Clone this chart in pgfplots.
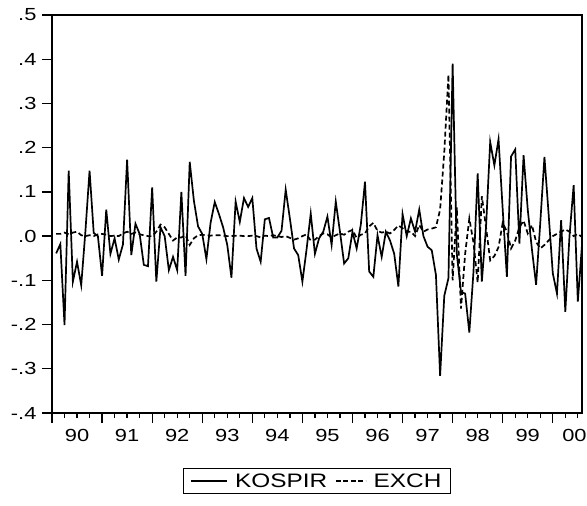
\documentclass[border=0pt]{standalone}
\usepackage{pgfplots}
\pgfplotsset{compat=1.18}
\usepackage{pgfplotstable}
\usepackage{fontspec}
\setmainfont{Liberation Sans}[FakeStretch=1.25]

\pgfplotstableread{
m kospir exch
1 -0.039 0.005
2 -0.018 0.005
3 -0.201 0.008
4 0.148 0.004
5 -0.103 0.008
6 -0.058 0.010
7 -0.111 0.002
8 0.010 0.000
9 0.148 0.002
10 0.007 0.000
11 0.000 0.004
12 -0.090 0.005
13 0.060 0.003
14 -0.040 0.000
15 -0.005 0.001
16 -0.053 0.000
17 -0.019 0.006
18 0.173 0.010
19 -0.043 0.005
20 0.028 0.008
21 0.005 0.004
22 -0.065 0.002
23 -0.068 0.000
24 0.110 0.000
25 -0.103 0.010
26 0.020 0.026
27 0.000 0.020
28 -0.077 0.005
29 -0.047 -0.010
30 -0.077 -0.003
31 0.100 -0.003
32 -0.090 0.002
33 0.168 -0.020
34 0.080 -0.005
35 0.022 0.002
36 0.005 0.003
37 -0.052 0.002
38 0.030 0.001
39 0.077 0.002
40 0.050 0.002
41 0.020 0.001
42 -0.020 0.000
43 -0.094 0.000
44 0.078 0.001
45 0.032 0.001
46 0.086 0.000
47 0.066 0.000
48 0.086 0.001
49 -0.028 0.000
50 -0.058 -0.003
51 0.038 0.001
52 0.041 0.000
53 -0.003 0.002
54 -0.003 0.000
55 0.012 -0.002
56 0.105 0.000
57 0.040 -0.004
58 -0.028 -0.008
59 -0.043 -0.005
60 -0.103 0.000
61 -0.030 0.004
62 0.051 -0.010
63 -0.040 -0.008
64 -0.005 0.000
65 0.010 0.006
66 0.044 0.004
67 -0.020 -0.003
68 0.078 0.002
69 0.010 0.006
70 -0.062 0.003
71 -0.050 0.010
72 0.010 0.014
73 -0.028 -0.004
74 0.026 0.003
75 0.123 0.006
76 -0.080 0.022
77 -0.092 0.030
78 0.002 0.012
79 -0.047 0.008
80 0.010 0.010
81 -0.010 0.006
82 -0.040 0.014
83 -0.114 0.024
84 0.050 0.018
85 0.000 0.010
86 0.040 0.010
87 0.010 0.000
88 0.060 0.025
89 0.000 0.010
90 -0.024 0.015
91 -0.032 0.017
92 -0.088 0.020
93 -0.316 0.060
94 -0.135 0.190
95 -0.095 0.365
96 0.390 -0.100
97 -0.040 0.065
98 -0.126 -0.164
99 -0.130 -0.040
100 -0.218 0.040
101 -0.080 -0.015
102 0.142 -0.105
103 -0.103 0.090
104 0.020 0.020
105 0.213 -0.055
106 0.160 -0.045
107 0.219 -0.025
108 0.060 0.030
109 -0.092 0.010
110 0.180 -0.028
111 0.196 -0.010
112 -0.017 0.020
113 0.183 0.035
114 0.060 0.006
115 -0.030 0.025
116 -0.110 -0.013
117 0.030 -0.028
118 0.179 -0.020
119 0.050 -0.010
120 -0.084 0.000
121 -0.130 0.005
122 0.036 0.010
123 -0.171 0.015
124 0.000 0.010
125 0.115 0.000
126 -0.148 0.005
127 -0.020 -0.002
}\datatable

\begin{document}
\begin{tikzpicture}
\begin{axis}[
  at={(0,0)}, anchor=south west,
  scale only axis, width=530bp, height=398bp,
  xmin=0, xmax=127, ymin=-0.4, ymax=0.5,
  axis lines=box,
  axis line style={line width=1.3bp, black},
  tick style={line width=1.3bp, black},
  tick align=outside, xtick pos=bottom, ytick pos=left,
  major tick length=10bp, minor tick length=5bp,
  xtick={0,12,...,120}, xticklabels={},
  minor xtick={3,6,9,15,18,21,27,30,33,39,42,45,51,54,57,63,66,69,75,78,81,87,90,93,99,102,105,111,114,117,123,126},
  extra x ticks={6,18,30,42,54,66,78,90,102,114,125.2},
  extra x tick labels={90,91,92,93,94,95,96,97,98,99,00},
  extra x tick style={major tick length=0pt},
  xticklabel style={font=\fontsize{17.5bp}{20bp}\selectfont, yshift=-13bp},
  ytick={-0.4,-0.3,-0.2,-0.1,0,0.1,0.2,0.3,0.4,0.5},
  yticklabels={-.4,-.3,-.2,-.1,.0,.1,.2,.3,.4,.5},
  yticklabel style={font=\fontsize{17.5bp}{20bp}\selectfont, xshift=-2bp},
  legend columns=-1,
  legend style={at={(0.5,0)}, anchor=north, yshift=-55bp, draw=black, line width=1bp,
    font=\fontsize{19.5bp}{22bp}\selectfont, inner xsep=7bp, inner ysep=3bp,
    /tikz/every odd column/.append style={column sep=5bp},
    /tikz/every even column/.append style={column sep=6bp}},
]
\addplot[black, line width=1.7bp, legend image code/.code={\draw[black,line width=1.5bp] (0bp,0bp) -- (36bp,0bp);}]
  table[x=m, y=kospir] {\datatable};
\addlegendentry{KOSPIR\rule[-40bp]{0pt}{40bp}}
\addplot[black, line width=1.7bp, dash pattern=on 5bp off 3bp, legend image code/.code={\draw[black,line width=1.5bp,dash pattern=on 5bp off 2.5bp] (0bp,0bp) -- (30bp,0bp);}]
  table[x=m, y=exch] {\datatable};
\addlegendentry{EXCH\rule[-40bp]{0pt}{40bp}}
\end{axis}
\draw[black, line width=1.3bp] (0bp,398bp) -- (530bp,398bp) -- (530bp,0bp);
\pgfresetboundingbox
\useasboundingbox (-52bp,-93bp) rectangle (535bp,413bp);
\end{tikzpicture}
\end{document}
